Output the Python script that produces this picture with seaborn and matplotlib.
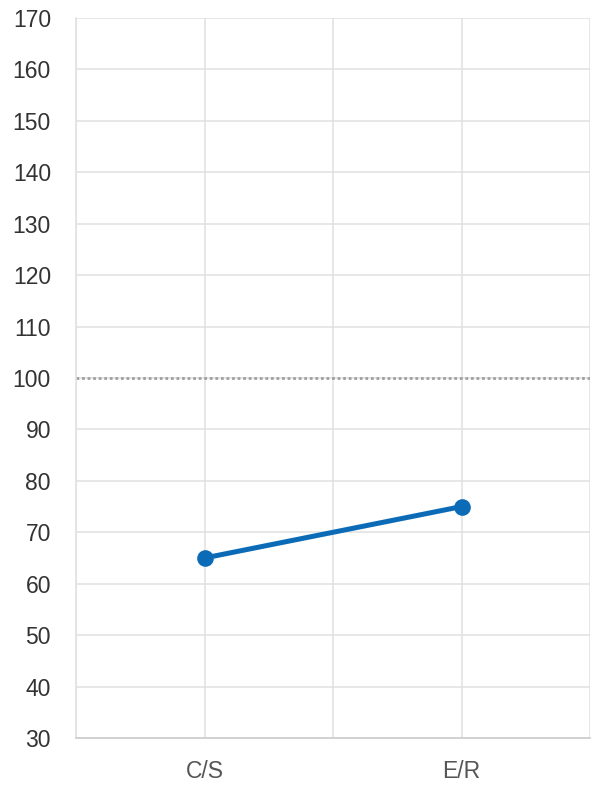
import matplotlib
matplotlib.use("Agg")
import matplotlib.pyplot as plt
import seaborn as sns
import pandas as pd

# chart data
categories = ["C/S", "E/R"]
values = [65, 75]
reference_value = 100
y_ticks = list(range(30, 171, 10))

df = pd.DataFrame({"cat": categories, "val": values})

sns.set_style("white")
plt.rcParams["font.family"] = ["Liberation Sans", "DejaVu Sans"]

fig = plt.figure(figsize=(5.94, 7.87), dpi=100)
ax = fig.add_axes([76 / 594, 1 - 738 / 787, (590 - 76) / 594, (738 - 18) / 787])

grid_col = "#e0e0e0"

# reference line at 100
ax.axhline(reference_value, color="#a0a0a0", lw=2.0, ls=(0, (1.0, 1.0)), zorder=2)

sns.lineplot(data=df, x="cat", y="val", ax=ax, color="#0b6bb6", lw=3.6,
             marker="o", markersize=12, markeredgewidth=0, zorder=3)

ax.set_xlim(-0.5, 1.5)
ax.set_ylim(30, 170)
ax.set_yticks(y_ticks)
ax.set_xticks([0, 1])
ax.set_xticks([-0.5, 0.5, 1.5], minor=True)
ax.set_xlabel("")
ax.set_ylabel("")

ax.grid(True, which="both", color=grid_col, lw=1.1, zorder=0)
ax.set_axisbelow(True)

for side in ["top", "right"]:
    ax.spines[side].set_visible(False)
ax.spines["left"].set_color(grid_col)
ax.spines["bottom"].set_color("#cfcfcf")
ax.spines["left"].set_linewidth(1.1)
ax.spines["bottom"].set_linewidth(1.3)

ax.tick_params(axis="y", length=16, width=1.1, color=grid_col, pad=2,
               labelsize=16.5, labelcolor="#333333")
ax.tick_params(axis="x", which="both", length=10, width=1.1, color=grid_col,
               pad=6, labelsize=16.5, labelcolor="#555555")

fig.savefig("out.png", dpi=100)
